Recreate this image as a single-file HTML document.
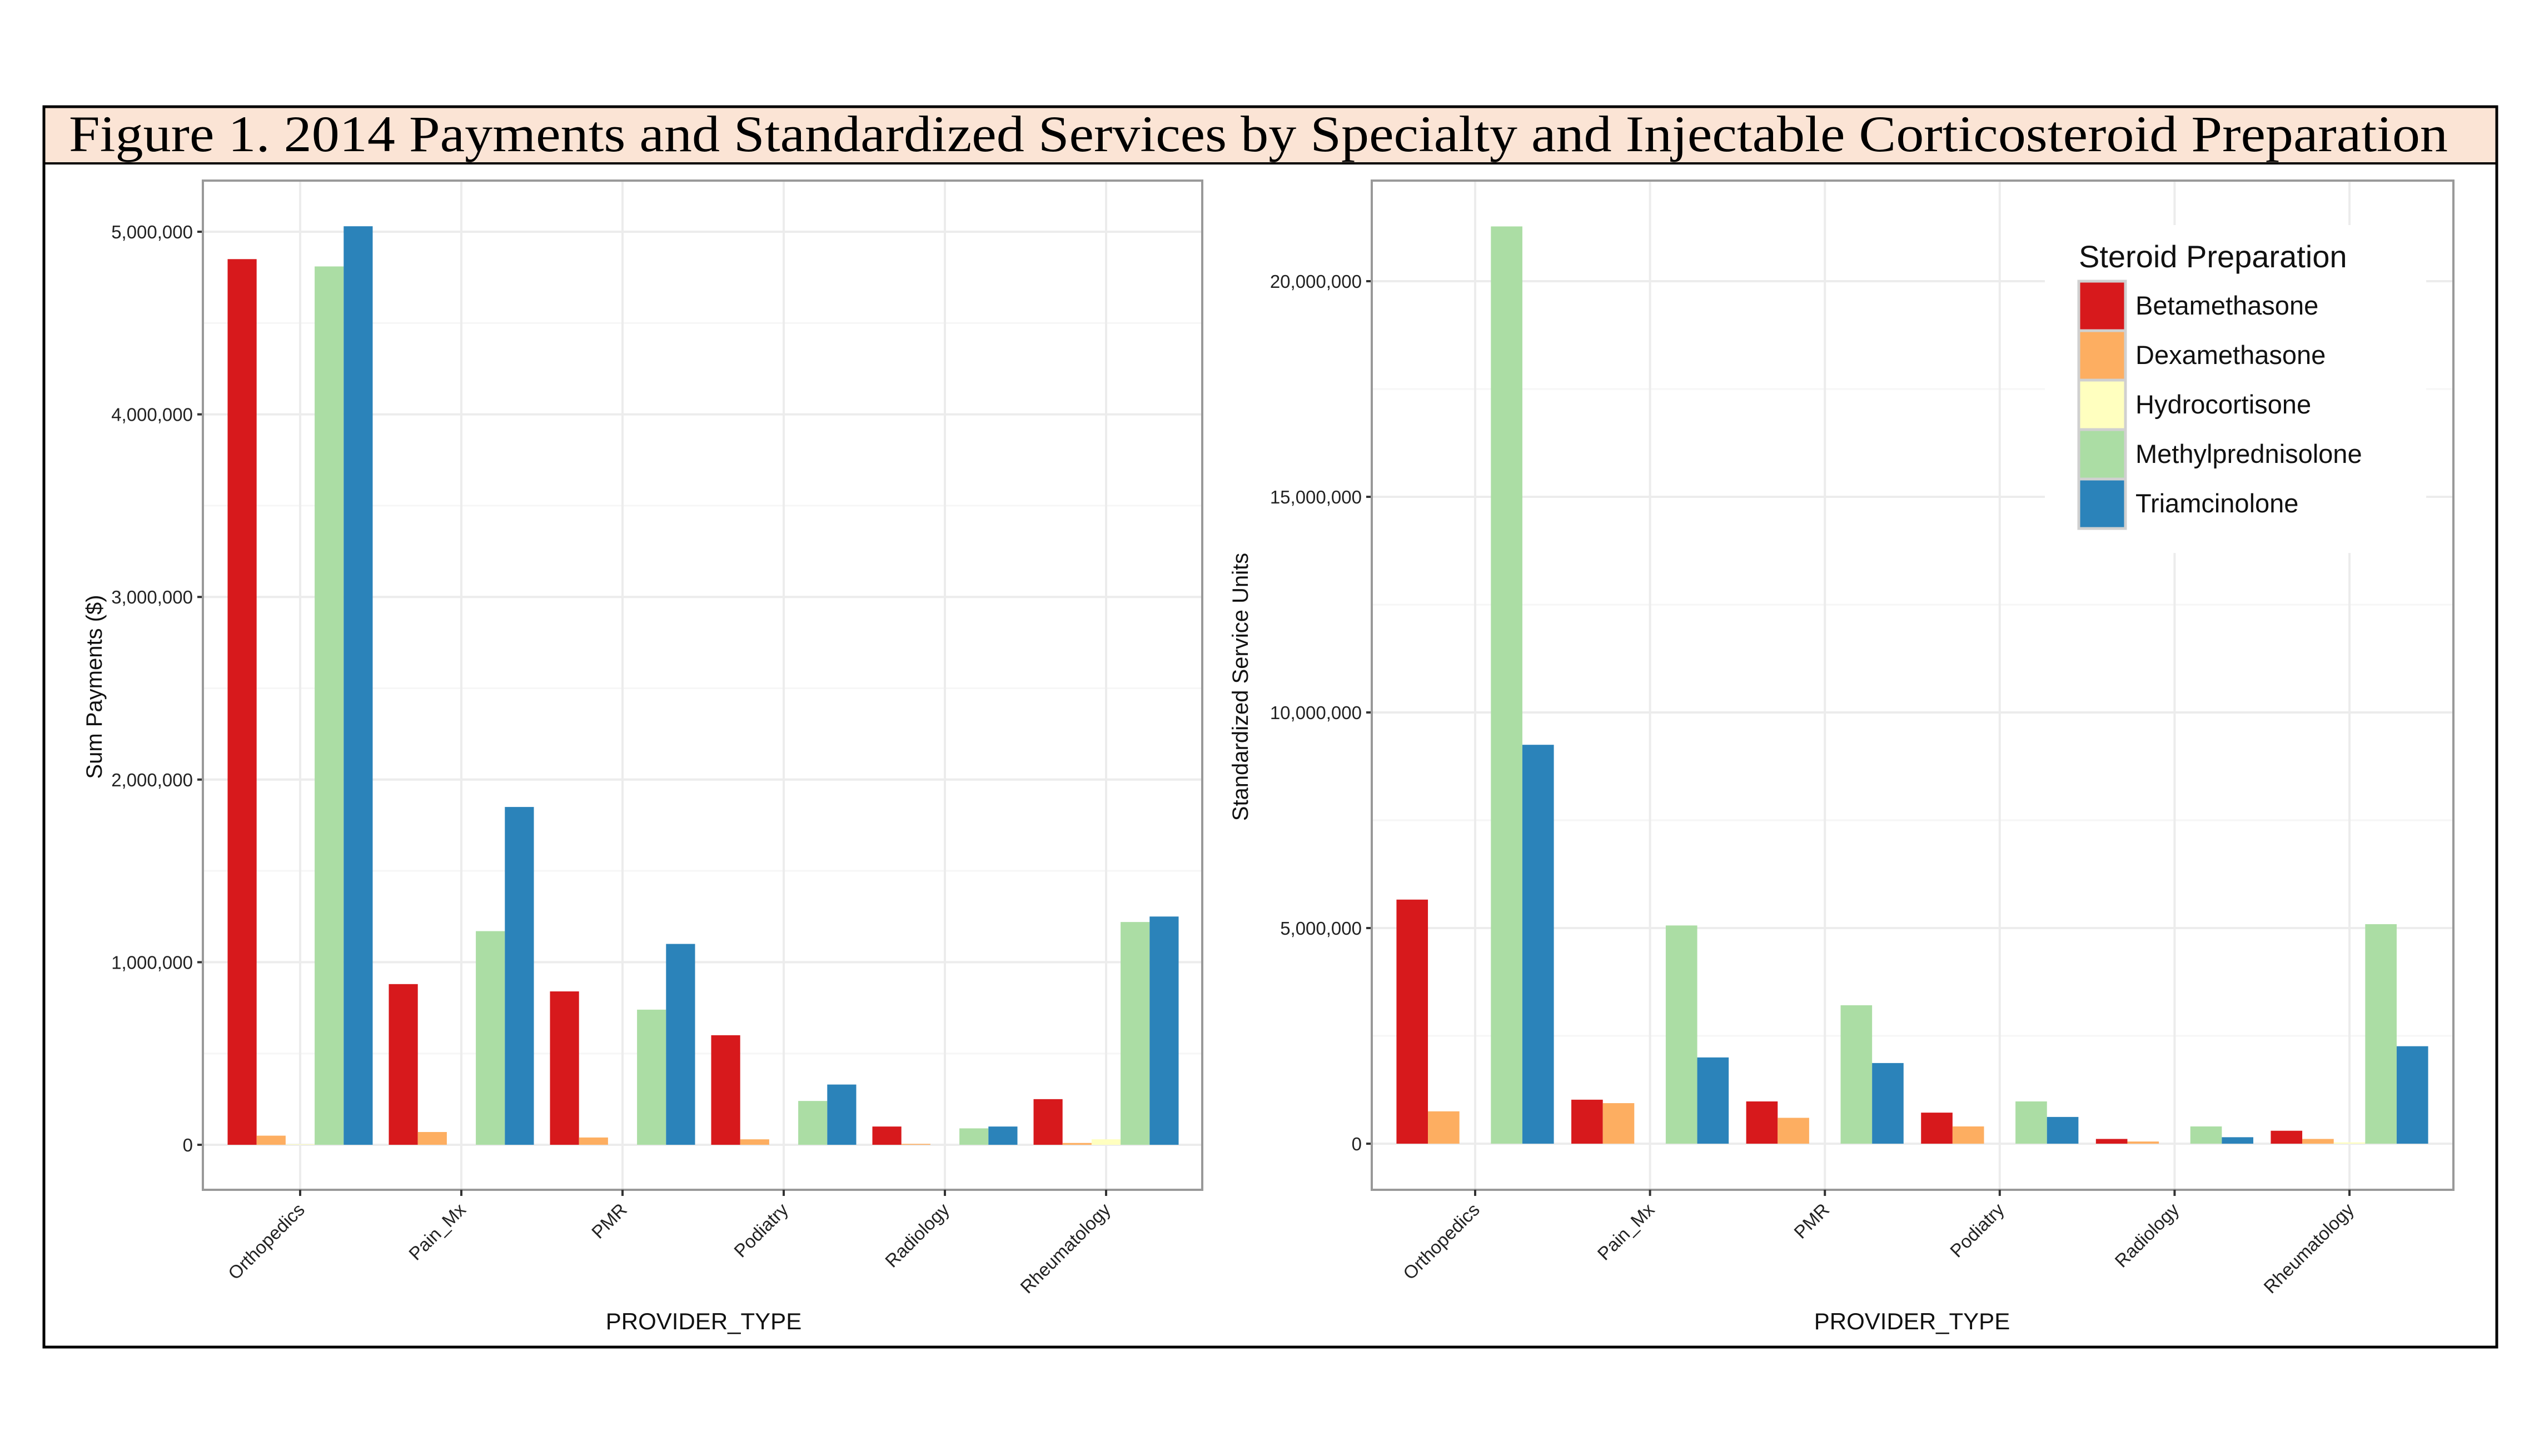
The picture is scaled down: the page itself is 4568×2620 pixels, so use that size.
<!DOCTYPE html>
<html><head><meta charset="utf-8"><style>
html,body{margin:0;padding:0;background:#fff;}
svg{display:block;font-family:"Liberation Sans",Arial,sans-serif;}
</style></head><body>
<svg id="chart" width="4568" height="2620" viewBox="0 0 4568 2620" xmlns="http://www.w3.org/2000/svg">
<rect x="0" y="0" width="4568" height="2620" fill="#fff"/>
<g>
<rect x="79" y="192" width="4413" height="102" fill="#fbe4d5"/>
<line x1="79" y1="294" x2="4492" y2="294" stroke="#000" stroke-width="4"/>
<text x="124" y="272" font-family="Liberation Serif,serif" font-size="92" textLength="4280" lengthAdjust="spacingAndGlyphs" fill="#000">Figure 1. 2014 Payments and Standardized Services by Specialty and Injectable Corticosteroid Preparation</text>
</g>
<rect x="79" y="192" width="4413" height="2232" fill="none" stroke="#000" stroke-width="5"/>
<g id="left"></g>
<g id="right"></g>
<g id="legend"></g>
</svg>
<script>
const categories = ["Orthopedics","Pain_Mx","PMR","Podiatry","Radiology","Rheumatology"];
const seriesNames = ["Betamethasone","Dexamethasone","Hydrocortisone","Methylprednisolone","Triamcinolone"];
const seriesColors = ["#d7191c","#fdae61","#ffffbf","#abdda4","#2b83ba"];
// Left panel: Sum Payments ($), millions
const payBeta  = [4.85,0.88,0.84,0.60,0.10,0.25];
const payDexa  = [0.05,0.07,0.04,0.03,0.005,0.01];
const payHydro = [0.003,0,0,0,0,0.03];
const payMethyl= [4.81,1.17,0.74,0.24,0.09,1.22];
const payTriam = [5.03,1.85,1.10,0.33,0.10,1.25];
const payTicks = [0,1,2,3,4,5];
const payTickLabels = ["0","1,000,000","2,000,000","3,000,000","4,000,000","5,000,000"];
// Right panel: Standardized Service Units, millions
const svcBeta  = [5.66,1.02,0.98,0.72,0.11,0.30];
const svcDexa  = [0.75,0.94,0.60,0.40,0.05,0.11];
const svcHydro = [0,0,0,0,0,0.03];
const svcMethyl= [21.27,5.06,3.21,0.98,0.40,5.09];
const svcTriam = [9.25,2.00,1.87,0.62,0.15,2.26];
const svcTicks = [0,5,10,15,20];
const svcTickLabels = ["0","5,000,000","10,000,000","15,000,000","20,000,000"];

const NS="http://www.w3.org/2000/svg";
function mk(tag,attrs,parent){const e=document.createElementNS(NS,tag);for(const k in attrs)e.setAttribute(k,attrs[k]);parent.appendChild(e);return e;}

function panel(g,cfg){
  const {x0,x1,y0,y1,zeroY,pxPerUnit,cat0,catStep,series,ticks,tickLabels,ytitle,ytitleX,xtitleX,name}=cfg;
  const y=v=>zeroY-v*pxPerUnit;
  const xc=i=>cat0+i*catStep;
  const bw=catStep*0.18;
  mk('rect',{x:x0,y:y0,width:x1-x0,height:y1-y0,fill:'#fff'},g);
  for(let i=0;i<ticks.length;i++){
    const mv=ticks[i]+(ticks[1]-ticks[0])/2;
    const yy=y(mv); if(yy>y0&&yy<y1){mk('line',{x1:x0,x2:x1,y1:yy,y2:yy,stroke:'#f6f6f6','stroke-width':3},g);}
  }
  const ym=y(ticks[0]-(ticks[1]-ticks[0])/2); if(ym<y1){mk('line',{x1:x0,x2:x1,y1:ym,y2:ym,stroke:'#f6f6f6','stroke-width':3},g);}
  ticks.forEach((t,i)=>{
    const yy=y(t);
    const gl=mk('line',{x1:x0,x2:x1,y1:yy,y2:yy,stroke:'#ececec','stroke-width':4},g);
    
    
    mk('line',{x1:x0-10,x2:x0,y1:yy,y2:yy,stroke:'#333','stroke-width':4},g);
    const tl=mk('text',{x:x0-18,y:yy+12,'font-size':33,'text-anchor':'end',fill:'#222'},g);
    tl.textContent=tickLabels[i];
    
    
  });
  categories.forEach((c,i)=>{
    const xx=xc(i);
    mk('line',{x1:xx,x2:xx,y1:y0,y2:y1,stroke:'#ececec','stroke-width':4},g);
  });
  series.forEach((vals,s)=>{
    vals.forEach((v,i)=>{
      const bx=xc(i)-2.5*bw+s*bw;
      const h=Math.max(v*pxPerUnit,0);
      const r=mk('rect',{x:bx,y:zeroY-h,width:bw,height:h,fill:seriesColors[s]},g);
      
      
    });
  });
  const box=mk('rect',{x:x0,y:y0,width:x1-x0,height:y1-y0,fill:'none',stroke:'#999','stroke-width':4},g);
  
  
  categories.forEach((c,i)=>{
    const xx=xc(i);
    mk('line',{x1:xx,x2:xx,y1:y1,y2:y1+11,stroke:'#333','stroke-width':4},g);
    const t=mk('text',{x:xx+10,y:y1+38,'font-size':33,'text-anchor':'end',fill:'#222',transform:`rotate(-45 ${xx+10} ${y1+38})`},g);
    t.textContent=c;
    
    
  });
  const xt=mk('text',{x:xtitleX,y:2392,'font-size':42,'text-anchor':'middle',fill:'#111'},g);
  xt.textContent='PROVIDER_TYPE';
  
  
  const yt=mk('text',{x:ytitleX,y:cfg.ytitleY,'font-size':40,'text-anchor':'middle',fill:'#111',transform:`rotate(-90 ${ytitleX} ${cfg.ytitleY})`},g);
  yt.textContent=ytitle;
  
  
}
const L=document.getElementById('left');


panel(L,{x0:365,x1:2163,y0:325,y1:2141,zeroY:2060,pxPerUnit:328.6,cat0:540,catStep:290,
  series:[payBeta,payDexa,payHydro,payMethyl,payTriam],ticks:payTicks,tickLabels:payTickLabels,
  ytitle:'Sum Payments ($)',ytitleX:183,ytitleY:1236,xtitleX:1266});
const R=document.getElementById('right');


panel(R,{x0:2468,x1:4414,y0:325,y1:2141,zeroY:2058,pxPerUnit:77.6,cat0:2654,catStep:314.6,
  series:[svcBeta,svcDexa,svcHydro,svcMethyl,svcTriam],ticks:svcTicks,tickLabels:svcTickLabels,
  ytitle:'Standardized Service Units',ytitleX:2245,ytitleY:1236,xtitleX:3440});
const G=document.getElementById('legend');


mk('rect',{x:3679,y:405,width:686,height:590,fill:'#fff'},G);
const lt=mk('text',{x:3740,y:481,'font-size':56,fill:'#111'},G);
lt.textContent='Steroid Preparation';


seriesNames.forEach((n,s)=>{
  const yy=506+s*89;
  const k=mk('rect',{x:3740,y:yy,width:84,height:89,fill:seriesColors[s],stroke:'#d0d0d0','stroke-width':5},G);
  
  
  const t=mk('text',{x:3842,y:yy+60,'font-size':47,fill:'#111'},G);
  t.textContent=n;
  
  
});
</script>
</body></html>
